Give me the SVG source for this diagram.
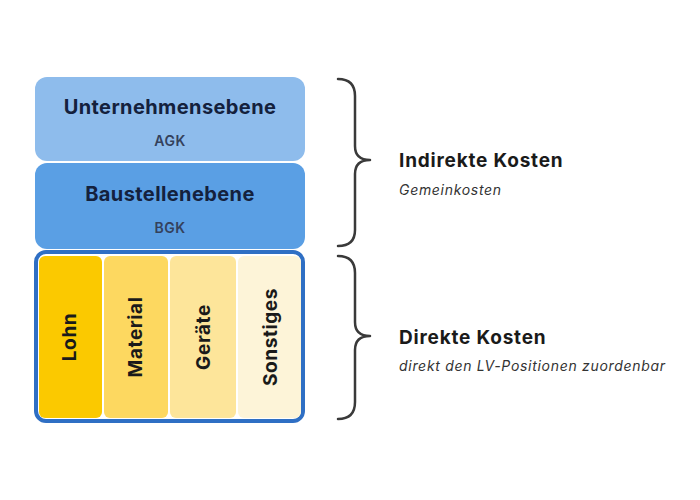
<svg xmlns="http://www.w3.org/2000/svg" width="700" height="500" viewBox="0 0 700 500">
<style>
text{font-family:Inter,"Open Sans","Liberation Sans",sans-serif}
.h{font-size:20px;font-weight:700;fill:#14213d;text-anchor:middle;letter-spacing:0.4px}
.s{font-size:14px;font-weight:600;fill:#34415c;text-anchor:middle;letter-spacing:0.5px}
.v{font-size:19px;font-weight:700;fill:#1a1a1a;text-anchor:middle;letter-spacing:0.6px}
.b{fill:none;stroke:#3a3a3a;stroke-width:2.5;stroke-linecap:round;stroke-linejoin:round}
.t{font-size:19px;font-weight:700;fill:#1a1a1a;letter-spacing:0.8px}
.i{font-size:14px;font-style:italic;fill:#333;letter-spacing:0.7px}
</style>
<rect width="700" height="500" fill="#fff"/>
<g id="agk"><rect x="35" y="77" width="270" height="84" rx="12" fill="#8ebcec"/>
<text class="h" x="170" y="114">Unternehmensebene</text><text class="s" x="170" y="146">AGK</text></g>
<g id="bgk"><rect x="35" y="163" width="270" height="86" rx="12" fill="#5a9fe4"/>
<text class="h" x="170" y="201">Baustellenebene</text><text class="s" x="170" y="233">BGK</text></g>
<g id="direkt"><rect x="36" y="252" width="267" height="169" rx="10" fill="#fff" stroke="#2f6fc4" stroke-width="4"/>
<rect x="39" y="256" width="63" height="162" rx="6" fill="#fbc900"/>
<rect x="104" y="256" width="64" height="162" rx="6" fill="#fdd860"/>
<rect x="170" y="256" width="66" height="162" rx="6" fill="#fde59a"/>
<rect x="238" y="256" width="63" height="162" rx="6" fill="#fdf4d8"/>
<text class="v" transform="translate(76,337) rotate(-90)">Lohn</text>
<text class="v" transform="translate(142,337) rotate(-90)">Material</text>
<text class="v" transform="translate(210,337) rotate(-90)">Geräte</text>
<text class="v" transform="translate(277,337) rotate(-90)">Sonstiges</text></g>
<g id="connectors">
<path class="b" d="M338,79 Q355,79 355,96 L355,146 Q355,160 370,160 Q355,160 355,174 L355,230 Q355,246 338,246"/>
<path class="b" d="M338,256 Q355,256 355,273 L355,322 Q355,336 370,336 Q355,336 355,350 L355,402 Q355,419 338,419"/>
</g>
<g id="indirekt"><text class="t" x="399" y="167">Indirekte Kosten</text><text class="i" x="399" y="195">Gemeinkosten</text></g>
<g id="direktlabel"><text class="t" x="399" y="344">Direkte Kosten</text><text class="i" x="399" y="371">direkt den LV-Positionen zuordenbar</text></g>
</svg>
